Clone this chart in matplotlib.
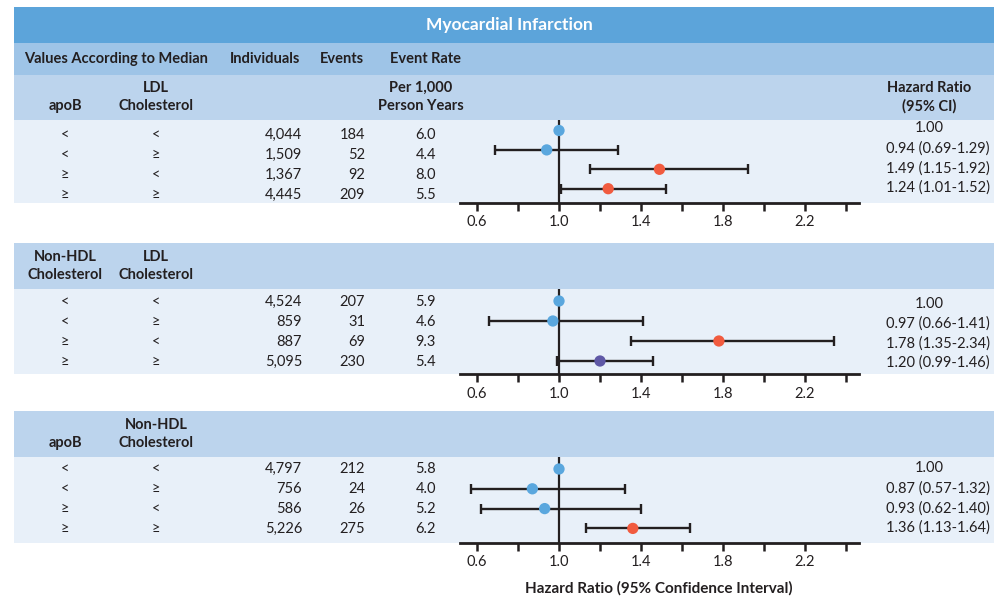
import matplotlib
matplotlib.use('Agg')
import matplotlib.pyplot as plt
from matplotlib.patches import Rectangle
import numpy as np

plt.rcParams['font.family'] = ['Lato', 'DejaVu Sans']

W, H = 994, 597
INK = '#231F20'
C_TITLE = '#5CA4DA'
C_HEAD1 = '#9EC4E7'
C_HEAD2 = '#BCD4ED'
C_DATA = '#E8F0F9'
C_BLUE = '#5AA7DE'
C_RED = '#F15B3F'
C_PURPLE = '#5F58A6'

# ---- data ----
title = 'Myocardial Infarction'
col_hdr = ['Individuals', 'Events', 'Event Rate']

p1_head = (['apoB'], ['LDL', 'Cholesterol'])
p1_a = ['<', '<', '≥', '≥']
p1_b = ['<', '≥', '<', '≥']
p1_n = [4044, 1509, 1367, 4445]
p1_ev = [184, 52, 92, 209]
p1_rate = [6.0, 4.4, 8.0, 5.5]
p1_hr = [1.00, 0.94, 1.49, 1.24]
p1_lo = [np.nan, 0.69, 1.15, 1.01]
p1_hi = [np.nan, 1.29, 1.92, 1.52]
p1_col = [C_BLUE, C_BLUE, C_RED, C_RED]

p2_head = (['Non-HDL', 'Cholesterol'], ['LDL', 'Cholesterol'])
p2_a = ['<', '<', '≥', '≥']
p2_b = ['<', '≥', '<', '≥']
p2_n = [4524, 859, 887, 5095]
p2_ev = [207, 31, 69, 230]
p2_rate = [5.9, 4.6, 9.3, 5.4]
p2_hr = [1.00, 0.97, 1.78, 1.20]
p2_lo = [np.nan, 0.66, 1.35, 0.99]
p2_hi = [np.nan, 1.41, 2.34, 1.46]
p2_col = [C_BLUE, C_BLUE, C_RED, C_PURPLE]

p3_head = (['apoB'], ['Non-HDL', 'Cholesterol'])
p3_a = ['<', '<', '≥', '≥']
p3_b = ['<', '≥', '<', '≥']
p3_n = [4797, 756, 586, 5226]
p3_ev = [212, 24, 26, 275]
p3_rate = [5.8, 4.0, 5.2, 6.2]
p3_hr = [1.00, 0.87, 0.93, 1.36]
p3_lo = [np.nan, 0.57, 0.62, 1.13]
p3_hi = [np.nan, 1.32, 1.40, 1.64]
p3_col = [C_BLUE, C_BLUE, C_BLUE, C_RED]

major_ticks = [0.6, 1.0, 1.4, 1.8, 2.2]
minor_ticks = [0.8, 1.2, 1.6, 2.0, 2.4]

# ---- layout (pixels) ----
X0, X1 = 14, W
FX0, FX1 = 460, 859          # forest axis extent
FXLIM = (1 - 99 / 205, 1 + 300 / 205)
FS = 10.5

fig = plt.figure(figsize=(W / 100, H / 100), dpi=100)
bg = fig.add_axes([0, 0, 1, 1])
bg.set_xlim(0, W)
bg.set_ylim(H, 0)
bg.axis('off')


def band(y0, y1, color):
    bg.add_patch(Rectangle((X0, y0), X1 - X0, y1 - y0, color=color, lw=0, zorder=0))


def txt(x, y, s, ha='center', bold=False, color=INK, size=FS):
    bg.text(x, y, s, ha=ha, va='center', fontsize=size, color=color,
            fontweight='bold' if bold else 'normal', zorder=3)


# title rows
band(7, 43, C_TITLE)
txt(509, 25, title, bold=True, color='white', size=12.5)
band(43, 75, C_HEAD1)
txt(24, 59, 'Values According to Median', ha='left', bold=True)
txt(265, 59, col_hdr[0], bold=True)
txt(342, 59, col_hdr[1], bold=True)
txt(425, 59, col_hdr[2], bold=True)

panels = [
    dict(head=p1_head, a=p1_a, b=p1_b, n=p1_n, ev=p1_ev, rate=p1_rate,
         hr=p1_hr, lo=p1_lo, hi=p1_hi, col=p1_col,
         hy=(75, 120), dy=(120, 203), trow=135, frow=130.5, fdr=19.4, hrow=128.5),
    dict(head=p2_head, a=p2_a, b=p2_b, n=p2_n, ev=p2_ev, rate=p2_rate,
         hr=p2_hr, lo=p2_lo, hi=p2_hi, col=p2_col,
         hy=(243, 289), dy=(289, 374), trow=302, frow=301, fdr=20, hrow=303.5),
    dict(head=p3_head, a=p3_a, b=p3_b, n=p3_n, ev=p3_ev, rate=p3_rate,
         hr=p3_hr, lo=p3_lo, hi=p3_hi, col=p3_col,
         hy=(411, 457), dy=(457, 543), trow=469, frow=469, fdr=19.8, hrow=468.5),
]

for k, p in enumerate(panels):
    h0, h1 = p['hy']
    d0, d1 = p['dy']
    band(h0, h1, C_HEAD2)
    band(d0, d1, C_DATA)

    # header labels (bottom-aligned lines)
    for cx, lines in zip([65, 156], p['head']):
        for j, s in enumerate(reversed(lines)):
            txt(cx, h1 - 14 - j * 18, s, bold=True)
    if k == 0:
        txt(421, h1 - 32, 'Per 1,000', bold=True)
        txt(421, h1 - 14, 'Person Years', bold=True)
        txt(929, h1 - 32, 'Hazard Ratio', bold=True)
        txt(929, h1 - 14, '(95% CI)', bold=True)

    # table values
    for i in range(4):
        y = p['trow'] + i * 20
        txt(65, y, p['a'][i])
        txt(156, y, p['b'][i])
        txt(302, y, f"{p['n'][i]:,}", ha='right')
        txt(365, y, f"{p['ev'][i]}", ha='right')
        txt(436, y, f"{p['rate'][i]:.1f}", ha='right')
        hy = p['hrow'] + i * 19.8
        if np.isnan(p['lo'][i]):
            txt(929, hy, f"{p['hr'][i]:.2f}")
        else:
            txt(990, hy, f"{p['hr'][i]:.2f} ({p['lo'][i]:.2f}-{p['hi'][i]:.2f})", ha='right')

    # forest plot
    ax = fig.add_axes([FX0 / W, 1 - d1 / H, (FX1 - FX0) / W, (d1 - d0) / H])
    ax.patch.set_alpha(0)
    ax.set_zorder(2)
    rows = np.arange(4)
    ax.set_xlim(*FXLIM)
    ax.set_ylim((d1 - p['frow']) / p['fdr'], (d0 - p['frow']) / p['fdr'])
    ax.axvline(1.0, color=INK, lw=1.6, zorder=1)

    hr = np.array(p['hr'])
    lo = np.array(p['lo'])
    hi = np.array(p['hi'])
    m = ~np.isnan(lo)
    ax.errorbar(hr[m], rows[m], xerr=[hr[m] - lo[m], hi[m] - hr[m]], fmt='none',
                ecolor=INK, elinewidth=1.7, capsize=3.8, capthick=1.7, zorder=2)
    ax.scatter(hr, rows, s=66, c=p['col'], zorder=3, linewidths=0)

    for s in ['top', 'left', 'right']:
        ax.spines[s].set_visible(False)
    ax.spines['bottom'].set_linewidth(2)
    ax.spines['bottom'].set_color(INK)
    ax.set_yticks([])
    ax.set_xticks(major_ticks)
    ax.set_xticklabels([f'{t:.1f}' for t in major_ticks], fontsize=FS, color=INK)
    ax.set_xticks(minor_ticks, minor=True)
    ax.tick_params(axis='x', which='both', direction='out', length=6, width=1.8,
                   color=INK, pad=3)

txt(659, 588, 'Hazard Ratio (95% Confidence Interval)', bold=True, size=11)

fig.savefig('out.png', dpi=100)
